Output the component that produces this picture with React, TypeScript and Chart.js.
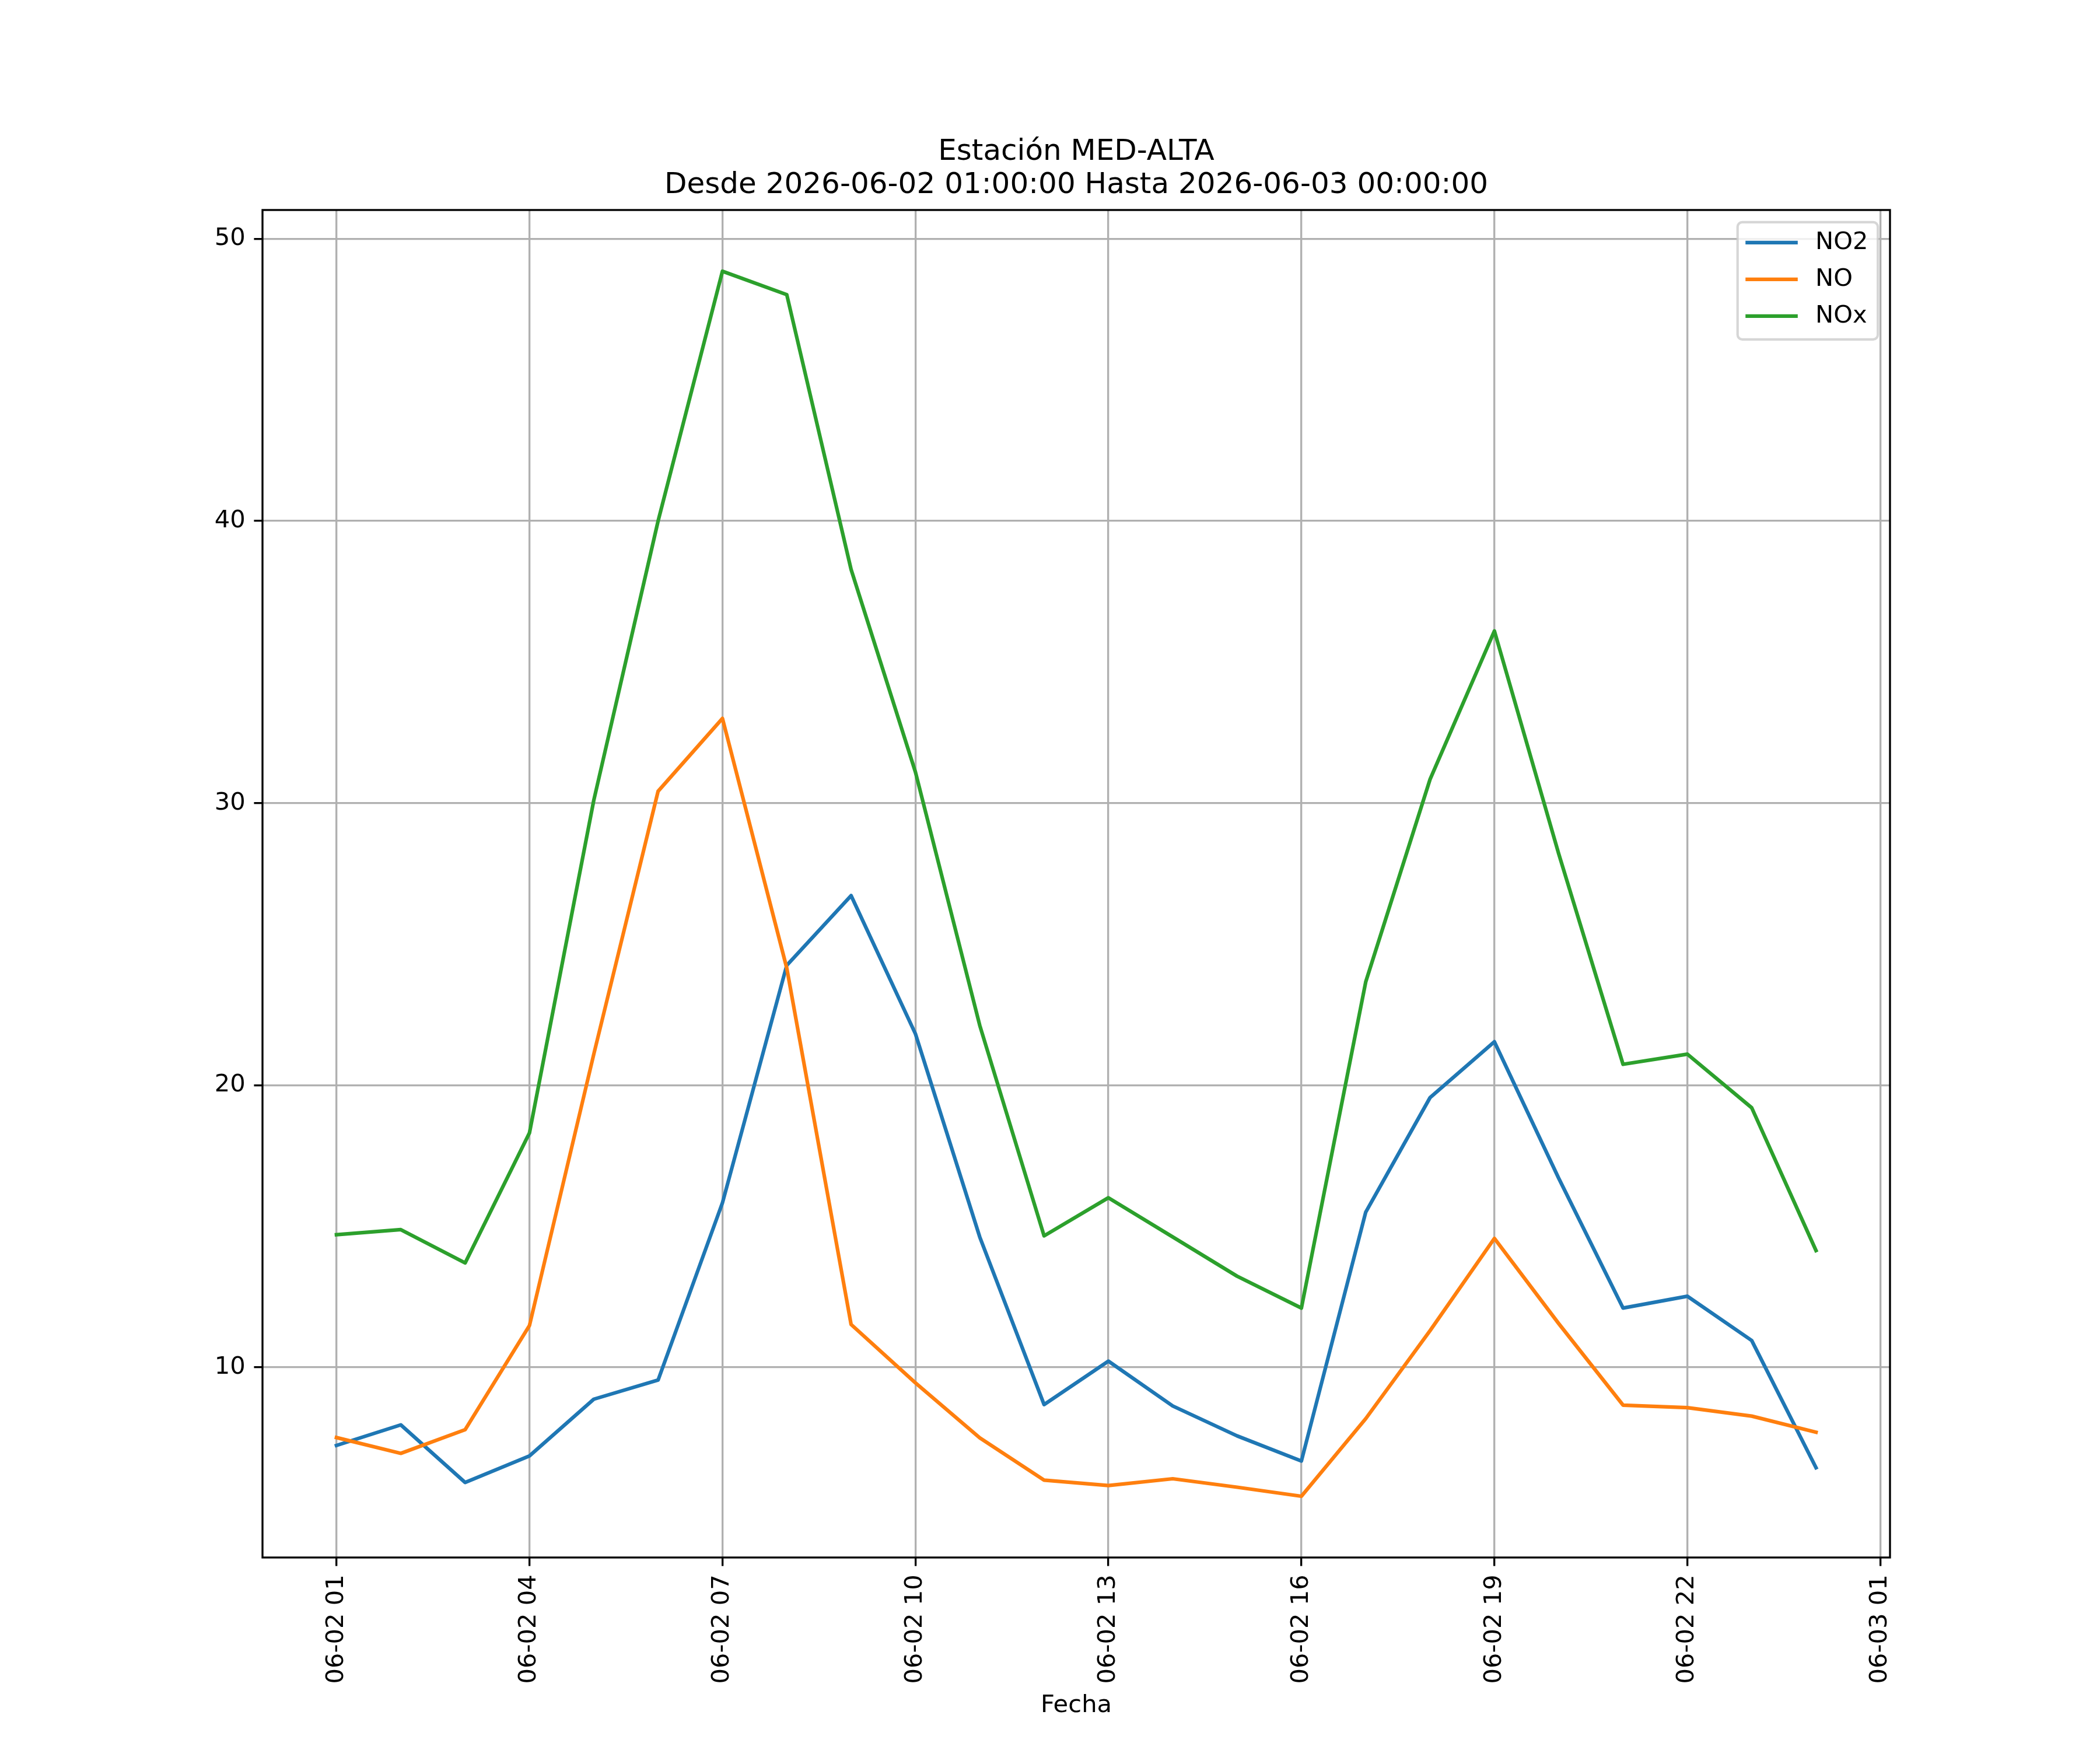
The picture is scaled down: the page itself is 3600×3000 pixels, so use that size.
import { useEffect, useRef } from "react";
import { Chart, registerables } from "chart.js";

Chart.register(...registerables);

// hourly readings, 06-02 01:00 .. 06-03 00:00
const hours = [
  "06-02 01", "06-02 02", "06-02 03", "06-02 04", "06-02 05", "06-02 06",
  "06-02 07", "06-02 08", "06-02 09", "06-02 10", "06-02 11", "06-02 12",
  "06-02 13", "06-02 14", "06-02 15", "06-02 16", "06-02 17", "06-02 18",
  "06-02 19", "06-02 20", "06-02 21", "06-02 22", "06-02 23", "06-03 00",
];
const no2 = [
  7.23, 7.96, 5.92, 6.86, 8.87, 9.55, 15.83, 24.25, 26.72, 21.82, 14.62, 8.68,
  10.22, 8.63, 7.57, 6.68, 15.5, 19.56, 21.54, 16.7, 12.1, 12.52, 10.95, 6.44,
];
const no = [
  7.51, 6.95, 7.79, 11.48, 21.1, 30.42, 33.0, 24.15, 11.52, 9.45, 7.5, 6.0,
  5.81, 6.05, 5.75, 5.43, 8.18, 11.3, 14.57, 11.55, 8.66, 8.57, 8.27, 7.7,
];
const nox = [
  14.7, 14.88, 13.7, 18.31, 30.1, 40.0, 48.85, 48.02, 38.28, 31.1, 22.12, 14.66,
  16.01, 14.62, 13.23, 12.1, 23.66, 30.84, 36.1, 28.2, 20.74, 21.1, 19.2, 14.14,
];
const seriesNames = ["NO2", "NO", "NOx"];
const seriesColors = ["#1f77b4", "#ff7f0e", "#2ca02c"];

// x ticks are hours after 06-02 01:00
const xTickHours = [0, 3, 6, 9, 12, 15, 18, 21, 24];
const xTickLabels = [
  "06-02 01", "06-02 04", "06-02 07", "06-02 10", "06-02 13",
  "06-02 16", "06-02 19", "06-02 22", "06-03 01",
];
const yTicks = [10, 20, 30, 40, 50];

const titleLines = [
  "Estación MED-ALTA",
  "Desde 2026-06-02 01:00:00 Hasta 2026-06-03 00:00:00",
];
const xTitle = "Fecha";

const PT = 300 / 72; // pixels per point at 300 dpi
const FONT = "DejaVu Sans";

// spines on all four sides + legend box in the top right corner
const framePlugin = {
  id: "frame",
  afterDatasetsDraw(chart: any) {
    const { ctx, chartArea: a } = chart;
    ctx.save();
    ctx.strokeStyle = "#000";
    ctx.lineWidth = 0.8 * PT;
    ctx.lineJoin = "miter";
    ctx.strokeRect(a.left, a.top, a.right - a.left, a.bottom - a.top);
    ctx.restore();
  },
  afterDraw(chart: any) {
    const { ctx, chartArea: a } = chart;
    const fs = 10 * PT;
    ctx.save();
    ctx.font = `${fs}px "${FONT}"`;
    const textW = Math.max(...seriesNames.map((n) => ctx.measureText(n).width));
    const w = 0.4 * fs + 2 * fs + 0.8 * fs + textW + 0.4 * fs;
    const h = 201;
    const x0 = a.right - 0.5 * fs - w;
    const y0 = a.top + 0.5 * fs;
    ctx.beginPath();
    ctx.roundRect(x0, y0, w, h, 8);
    ctx.fillStyle = "rgba(255,255,255,0.8)";
    ctx.fill();
    ctx.strokeStyle = "rgba(204,204,204,0.8)";
    ctx.lineWidth = 1 * PT;
    ctx.stroke();
    seriesNames.forEach((name, i) => {
      const cy = y0 + 35 + i * 63;
      ctx.beginPath();
      ctx.moveTo(x0 + 0.4 * fs, cy);
      ctx.lineTo(x0 + 2.4 * fs, cy);
      ctx.strokeStyle = seriesColors[i];
      ctx.lineWidth = 1.5 * PT;
      ctx.lineCap = "square";
      ctx.stroke();
      ctx.fillStyle = "#000";
      ctx.textAlign = "left";
      ctx.textBaseline = "middle";
      ctx.fillText(name, x0 + 3.2 * fs, cy);
    });
    ctx.restore();
  },
};

export default function App() {
  const canvasRef = useRef<HTMLCanvasElement | null>(null);

  useEffect(() => {
    if (!canvasRef.current) return;
    document.body.style.margin = "0";

    const all = [...no2, ...no, ...nox];
    const lo = Math.min(...all);
    const hi = Math.max(...all);
    const padY = (hi - lo) * 0.05;
    const padX = (hours.length - 1) * 0.05;

    const series = [no2, no, nox];
    const datasets = series.map((vals, s) => ({
      label: seriesNames[s],
      data: hours.map((_, i) => ({ x: i, y: vals[i] })),
      borderColor: seriesColors[s],
      backgroundColor: seriesColors[s],
      borderWidth: 1.5 * PT,
      borderJoinStyle: "round",
      borderCapStyle: "square",
      pointRadius: 0,
      tension: 0,
      fill: false,
      order: 3 - s,
    }));

    const tickFont = { family: FONT, size: 10 * PT };
    const grid = {
      color: "#b0b0b0",
      lineWidth: 0.8 * PT,
      tickColor: "#000",
      tickWidth: 0.8 * PT,
      tickLength: 3.5 * PT,
    };

    const chart = new Chart(canvasRef.current, {
      type: "line",
      data: { datasets } as any,
      options: {
        animation: false,
        responsive: false,
        devicePixelRatio: 1,
        layout: { padding: { top: 0, left: 0, right: 360, bottom: 0 } },
        plugins: {
          legend: { display: false },
          tooltip: { enabled: false },
          title: {
            display: true,
            text: titleLines,
            color: "#000",
            fullSize: false,
            font: { family: FONT, size: 12 * PT, weight: "normal", lineHeight: 1.14 },
            padding: { top: 232.5, bottom: 13.5 },
          },
        },
        scales: {
          x: {
            type: "linear",
            min: -padX,
            max: hours.length - 1 + padX,
            afterBuildTicks: (scale: any) => {
              scale.ticks = xTickHours.map((v) => ({ value: v }));
            },
            afterFit: (scale: any) => {
              scale.height = 330;
            },
            ticks: {
              autoSkip: false,
              minRotation: 90,
              maxRotation: 90,
              padding: 3.5 * PT,
              color: "#000",
              font: tickFont,
              callback: (v: any) => {
                const k = xTickHours.indexOf(Number(v));
                return k >= 0 ? xTickLabels[k] : "";
              },
            },
            grid,
            border: { display: false },
            title: {
              display: true,
              text: xTitle,
              color: "#000",
              font: { family: FONT, size: 10 * PT, lineHeight: 1.2 },
              padding: { top: 0, bottom: 51 },
            },
          },
          y: {
            type: "linear",
            min: lo - padY,
            max: hi + padY,
            afterBuildTicks: (scale: any) => {
              scale.ticks = yTicks.map((v) => ({ value: v }));
            },
            afterFit: (scale: any) => {
              scale.width = 450;
            },
            ticks: {
              padding: 3.5 * PT,
              color: "#000",
              font: tickFont,
              callback: (v: any) => String(v),
            },
            grid,
            border: { display: false },
          },
        },
      } as any,
      plugins: [framePlugin],
    });

    return () => {
      chart.destroy();
    };
  }, []);

  return (
    <div style={{ width: 3600, height: 3000, background: "#fff" }}>
      <canvas ref={canvasRef} width={3600} height={3000} style={{ display: "block" }} />
    </div>
  );
}
